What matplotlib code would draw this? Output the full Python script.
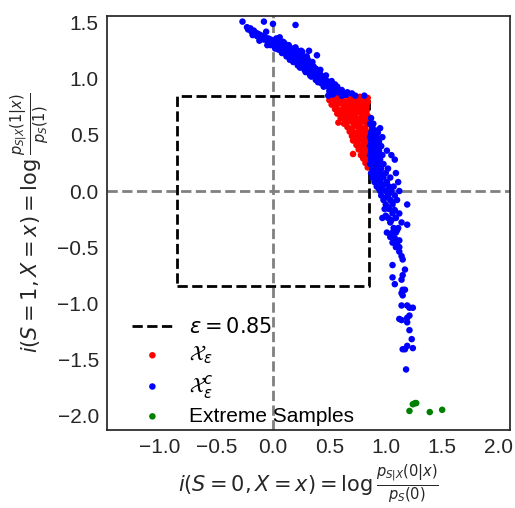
import numpy as np
import matplotlib
matplotlib.use("Agg")
import matplotlib.pyplot as plt

plt.rcParams['font.family'] = ['Liberation Sans', 'DejaVu Sans']
plt.rcParams['mathtext.fontset'] = 'dejavusans'

EPS = 0.85

# upper branch
upper_x = [-0.27, -0.23, -0.22, -0.20, -0.19, -0.17, -0.16, -0.15, -0.14, -0.13,
           -0.12, -0.11, -0.10, -0.09, -0.08, -0.08, -0.07, -0.06, -0.05, -0.04,
           -0.03, -0.02, -0.01, 0.00, 0.00, 0.01, 0.02, 0.03, 0.04, 0.05,
           0.06, 0.07, 0.08, 0.09, 0.10, 0.11, 0.12, 0.13, 0.14, 0.15,
           0.16, 0.17, 0.18, 0.19, 0.20, 0.20, 0.21, 0.22, 0.23, 0.24,
           0.25, 0.26, 0.27, 0.28, 0.29, 0.30, 0.31, 0.32, 0.32, 0.33,
           0.34, 0.35, 0.36, 0.37, 0.38, 0.39, 0.39, 0.40, 0.41, 0.42,
           0.43, 0.44, 0.45, 0.46, 0.47, 0.48, 0.49, 0.50, 0.51, 0.52,
           0.53, 0.54, 0.55, 0.56, 0.57, 0.58, 0.60, 0.62, 0.64, 0.15,
           0.22, 0.28, 0.33, 0.38, 0.43, 0.30, 0.25, 0.10, 0.05, -0.02,
           -0.18, -0.12, -0.05, 0.02, 0.08, 0.12, 0.18, 0.24, 0.29, 0.34,
           0.40, 0.45, 0.50, 0.03, 0.09, 0.14, 0.20, 0.26, 0.35, 0.42,
           0.47, 0.52, 0.57, 0.61, 0.66, 0.70, 0.55]
upper_y = [1.51, 1.46, 1.44, 1.45, 1.42, 1.43, 1.40, 1.41, 1.38, 1.40,
           1.37, 1.39, 1.36, 1.38, 1.51, 1.35, 1.37, 1.42, 1.34, 1.36,
           1.33, 1.35, 1.31, 1.49, 1.34, 1.30, 1.32, 1.28, 1.33, 1.30,
           1.37, 1.28, 1.31, 1.26, 1.29, 1.24, 1.27, 1.30, 1.23, 1.26,
           1.21, 1.24, 1.27, 1.19, 1.48, 1.22, 1.16, 1.25, 1.19, 1.14,
           1.21, 1.17, 1.12, 1.19, 1.15, 1.10, 1.17, 1.25, 1.13, 1.08,
           1.14, 1.06, 1.11, 1.04, 1.09, 1.21, 1.02, 1.06, 1.00, 1.04,
           0.99, 1.02, 0.97, 1.00, 0.95, 0.98, 0.93, 0.96, 0.91, 0.94,
           0.90, 0.92, 0.89, 0.91, 0.88, 0.90, 0.88, 0.87, 0.86, 1.17,
           1.12, 1.08, 1.03, 0.99, 0.96, 1.20, 1.25, 1.32, 1.26, 1.30,
           1.39, 1.34, 1.30, 1.27, 1.23, 1.20, 1.15, 1.10, 1.06, 1.02,
           0.97, 0.93, 0.89, 1.36, 1.33, 1.30, 1.28, 1.24, 1.15, 1.08,
           1.03, 0.98, 0.93, 0.90, 0.88, 0.87, 0.95]

# middle part, inside the epsilon box
mid_x = [0.49, 0.53, 0.57, 0.61, 0.65, 0.69, 0.73, 0.77, 0.81, 0.84,
         0.50, 0.54, 0.58, 0.62, 0.66, 0.70, 0.74, 0.78, 0.82, 0.84,
         0.52, 0.56, 0.60, 0.64, 0.68, 0.72, 0.76, 0.80, 0.83,
         0.55, 0.59, 0.63, 0.67, 0.71, 0.75, 0.79, 0.83,
         0.57, 0.61, 0.65, 0.69, 0.73, 0.77, 0.81, 0.84,
         0.60, 0.64, 0.68, 0.72, 0.76, 0.80, 0.84,
         0.58, 0.63, 0.67, 0.71, 0.75, 0.79, 0.83,
         0.66, 0.70, 0.74, 0.78, 0.82,
         0.68, 0.72, 0.76, 0.80, 0.84,
         0.70, 0.74, 0.78, 0.82,
         0.71, 0.75, 0.79, 0.83,
         0.74, 0.77, 0.81, 0.84,
         0.76, 0.80, 0.83,
         0.71, 0.78, 0.82, 0.84,
         0.80, 0.83, 0.82, 0.84, 0.84,
         0.51, 0.55, 0.59, 0.63, 0.67, 0.71, 0.75, 0.79, 0.62, 0.66,
         0.70, 0.74, 0.78, 0.82, 0.73, 0.77, 0.81, 0.79, 0.82]
mid_y = [0.85, 0.86, 0.84, 0.85, 0.86, 0.84, 0.85, 0.84, 0.85, 0.83,
         0.81, 0.80, 0.82, 0.81, 0.80, 0.82, 0.81, 0.80, 0.81, 0.79,
         0.77, 0.76, 0.78, 0.77, 0.76, 0.78, 0.77, 0.76, 0.75,
         0.73, 0.72, 0.74, 0.73, 0.72, 0.74, 0.73, 0.71,
         0.69, 0.68, 0.70, 0.69, 0.68, 0.70, 0.69, 0.67,
         0.65, 0.64, 0.66, 0.65, 0.64, 0.66, 0.63,
         0.61, 0.60, 0.62, 0.61, 0.60, 0.62, 0.59,
         0.57, 0.56, 0.58, 0.57, 0.55,
         0.53, 0.52, 0.54, 0.53, 0.51,
         0.49, 0.48, 0.50, 0.47,
         0.45, 0.44, 0.46, 0.43,
         0.41, 0.40, 0.42, 0.39,
         0.37, 0.36, 0.35,
         0.33, 0.32, 0.31, 0.33,
         0.29, 0.28, 0.25, 0.24, 0.21,
         0.83, 0.83, 0.79, 0.79, 0.78, 0.75, 0.71, 0.67, 0.70, 0.67,
         0.63, 0.59, 0.55, 0.51, 0.50, 0.46, 0.44, 0.38, 0.35]

# lower branch
lower_x = [0.87, 0.86, 0.89, 0.88, 0.95, 0.87, 0.90, 0.93, 0.86, 0.89, 0.92, 0.97,
           0.87, 0.90, 0.94, 0.86, 0.89, 0.92, 0.96, 0.87, 0.90, 0.94, 1.01,
           0.86, 0.89, 0.93, 0.97, 1.05, 0.87, 0.91, 0.95, 1.08, 0.86, 0.89, 0.93, 0.98,
           0.88, 0.92, 0.96, 1.02, 0.87, 0.90, 0.95, 1.00, 1.09, 0.88, 0.93, 0.98, 1.04,
           0.90, 0.95, 1.01, 1.11, 0.92, 0.97, 1.03, 1.07, 0.95, 1.00, 1.05, 1.12,
           0.96, 1.02, 1.08, 0.98, 1.04, 1.10, 1.00, 1.06, 1.19, 0.99, 1.03,
           1.06, 1.12, 0.97, 1.02, 1.09, 1.04, 1.14, 1.19, 1.07, 1.11,
           1.01, 1.06, 1.09, 1.08, 1.06, 1.10, 1.09, 1.12, 1.12, 1.14, 1.15,
           1.06, 1.17, 1.15, 1.06, 1.14, 1.08, 1.15, 1.17, 1.14, 1.15,
           1.14, 1.19, 1.21, 1.24, 1.21, 1.19, 1.12, 1.14, 1.19, 1.21,
           1.23, 1.19, 1.24, 1.15, 1.17, 1.18,
           0.88, 0.91, 0.88, 0.91, 0.88, 0.92, 0.90, 0.94, 0.90, 0.97,
           0.91, 0.99, 0.94, 1.03, 0.99, 1.06, 1.01, 1.08, 1.00, 1.05,
           1.10, 1.04, 1.12]
lower_y = [0.65, 0.60, 0.60, 0.56, 0.56, 0.52, 0.52, 0.52, 0.48, 0.48, 0.48, 0.48,
           0.44, 0.44, 0.44, 0.40, 0.40, 0.40, 0.40, 0.36, 0.36, 0.36, 0.36,
           0.32, 0.32, 0.32, 0.32, 0.32, 0.28, 0.28, 0.28, 0.28, 0.24, 0.24, 0.24, 0.24,
           0.20, 0.20, 0.20, 0.20, 0.16, 0.16, 0.16, 0.16, 0.16, 0.12, 0.12, 0.12, 0.12,
           0.08, 0.08, 0.08, 0.08, 0.04, 0.04, 0.04, 0.04, 0.00, 0.00, 0.00, 0.00,
           -0.04, -0.04, -0.04, -0.08, -0.08, -0.08, -0.12, -0.12, -0.12, -0.16, -0.16,
           -0.20, -0.20, -0.24, -0.24, -0.24, -0.28, -0.28, -0.30, -0.33, -0.33,
           -0.37, -0.37, -0.37, -0.42, -0.46, -0.46, -0.50, -0.50, -0.54, -0.58, -0.61,
           -0.66, -0.70, -0.75, -0.77, -0.79, -0.83, -0.88, -0.88, -0.91, -0.93,
           -1.02, -1.02, -1.04, -1.04, -1.11, -1.13, -1.14, -1.15, -1.17, -1.24,
           -1.32, -1.38, -1.40, -1.41, -1.41, -1.59,
           0.58, 0.54, 0.46, 0.42, 0.34, 0.30, 0.26, 0.22, 0.18, 0.14,
           0.10, 0.06, 0.02, -0.02, -0.06, -0.10, -0.14, -0.17, -0.22, -0.26,
           -0.35, -0.41, -0.44]

extreme_x = [1.21, 1.24, 1.26, 1.27, 1.39, 1.50]
extreme_y = [-1.96, -1.90, -1.89, -1.89, -1.97, -1.95]

x = np.array(upper_x + mid_x + lower_x)
y = np.array(upper_y + mid_y + lower_y)
inside = (np.abs(x) < EPS) & (np.abs(y) < EPS)

fig = plt.figure(figsize=(5.15, 5.08), dpi=100)
ax = fig.add_axes([0.208, 0.1535, 0.782, 0.815])

ax.axvline(0, color='gray', linestyle='--', linewidth=2)
ax.axhline(0, color='gray', linestyle='--', linewidth=2)
ax.plot([-EPS, EPS, EPS, -EPS, -EPS], [-EPS, -EPS, EPS, EPS, -EPS],
        'k--', linewidth=2, label=r'$\varepsilon = 0.85$')
ax.scatter(x[inside], y[inside], s=22, color='red', edgecolors='none',
           label=r'$\mathcal{X}_\varepsilon$', zorder=3)
ax.scatter(x[~inside], y[~inside], s=22, color='blue', edgecolors='none',
           label=r'$\mathcal{X}_\varepsilon^c$', zorder=3)
ax.scatter(extreme_x, extreme_y, s=22, color='green', edgecolors='none',
           label='Extreme Samples', zorder=3)

ax.set_xlim(-1.47, 2.10)
ax.set_ylim(-2.13, 1.56)
ax.set_xticks([-1.0, -0.5, 0.0, 0.5, 1.0, 1.5, 2.0])
ax.set_yticks([-2.0, -1.5, -1.0, -0.5, 0.0, 0.5, 1.0, 1.5])
ax.tick_params(length=0, labelsize=15, colors='#262626', pad=6)
for s in ax.spines.values():
    s.set_color('#262626')
    s.set_linewidth(1.25)

ax.set_xlabel(r'$i(S=0, X=x) = \log\frac{p_{S|X}(0|x)}{p_S(0)}$', fontsize=15, color='#262626')
ax.set_ylabel(r'$i(S=1, X=x) = \log\frac{p_{S|X}(1|x)}{p_S(1)}$', fontsize=15, color='#262626')

ax.legend(loc='lower left', fontsize=15, frameon=False, labelspacing=0.3,
          borderaxespad=0.2, borderpad=0.2, handletextpad=0.75,
          bbox_to_anchor=(0.04, -0.01))

fig.savefig('out.png', dpi=100)
